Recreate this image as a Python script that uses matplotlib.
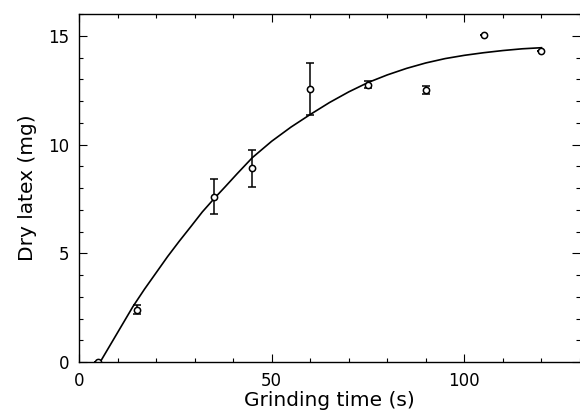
import matplotlib.pyplot as plt
import numpy as np

# measured points
time_s = [5, 15, 35, 45, 60, 75, 90, 105, 120]
latex_mg = [0.0, 2.4, 7.6, 8.9, 12.55, 12.75, 12.5, 15.05, 14.3]
latex_err = [0.0, 0.2, 0.8, 0.85, 1.2, 0.15, 0.2, 0.0, 0.0]

# fitted curve
fit_t = [5.5, 8, 10, 12, 14, 17, 20, 23, 26, 29, 32, 35, 38, 41, 45, 50, 55, 60, 65, 70,
         75, 80, 85, 90, 95, 100, 105, 110, 115, 120]
fit_y = [0.0, 0.75, 1.35, 1.95, 2.55, 3.35, 4.1, 4.85, 5.55, 6.22, 6.9, 7.5, 8.07, 8.65,
         9.4, 10.15, 10.8, 11.38, 11.93, 12.42, 12.85, 13.2, 13.5, 13.75, 13.95, 14.1,
         14.22, 14.32, 14.4, 14.45]

plt.rcParams['font.family'] = 'DejaVu Sans'

fig = plt.figure(figsize=(5.8, 4.17), dpi=100)
ax = fig.add_axes([79 / 580, 1 - 362 / 417, 501 / 580, 348 / 417])

ax.plot(fit_t, fit_y, color='black', lw=1.2)
ax.errorbar(time_s, latex_mg, yerr=latex_err, fmt='o', mfc='white', mec='black',
            ms=4.5, mew=1.1, ecolor='black', elinewidth=1.1, capsize=3, capthick=1.1)

ax.set_xlim(0, 130)
ax.set_ylim(0, 16)
ax.set_xticks([0, 50, 100])
ax.set_xticks(np.arange(0, 131, 10), minor=True)
ax.set_yticks([0, 5, 10, 15])
ax.set_yticks(np.arange(0, 17, 1), minor=True)
ax.tick_params(which='both', direction='in', top=True, right=True, width=0.8,
               labelsize=12, pad=7)
ax.tick_params(which='major', length=6)
ax.tick_params(which='minor', length=3)
ax.spines['right'].set_visible(False)
for s in ['left', 'bottom', 'top']:
    ax.spines[s].set_linewidth(1.0)

ax.set_xlabel('Grinding time (s)', fontsize=14.5, labelpad=1)
ax.set_ylabel('Dry latex (mg)', fontsize=14.5, labelpad=8)

fig.savefig('out.png', dpi=100)
